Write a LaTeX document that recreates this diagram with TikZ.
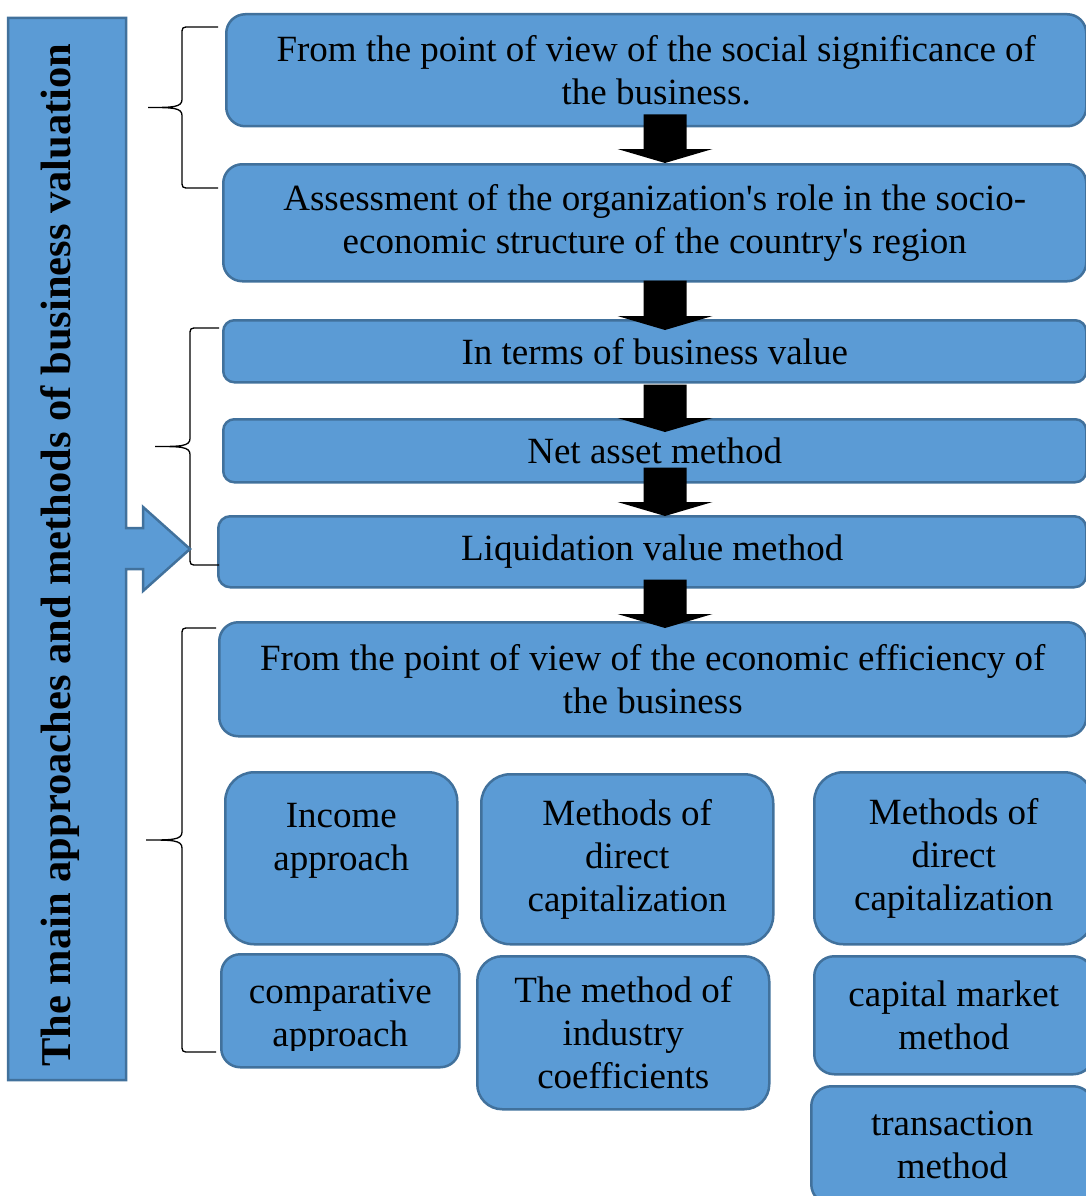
\documentclass[tikz,border=0pt]{standalone}
\usepackage{fontspec}
\setmainfont{Liberation Serif}
\usetikzlibrary{calc}
\definecolor{boxfill}{HTML}{5B9BD5}
\definecolor{boxline}{HTML}{41719C}

% left curly brace: ends x, spine x, tip x, top y, bottom y
\newcommand\curlyb[5]{%
  \draw[curly] (#1,#4) -- (#2+8,#4) .. controls (#2,#4) .. (#2,#4+8)
    -- (#2,{(#4+#5)/2-8}) .. controls (#2,{(#4+#5)/2}) and (#2-10,{(#4+#5)/2}) .. (#3,{(#4+#5)/2})
    .. controls (#2-10,{(#4+#5)/2}) and (#2,{(#4+#5)/2}) .. (#2,{(#4+#5)/2+8})
    -- (#2,#5-8) .. controls (#2,#5) .. (#2+8,#5) -- (#1,#5);}

\begin{document}
\begin{tikzpicture}[x=1pt,y=-1pt,
    box/.style={draw=boxline,fill=boxfill,line width=2.5pt,rounded corners=#1,
      anchor=north west,align=center,inner sep=0pt,font=\fontsize{37}{43}\selectfont},
    box/.default=18pt,
    txt/.style={align=center,inner sep=0pt,font=\fontsize{37}{43}\selectfont},
    blockarr/.style={fill=black,to path={let \p1=(\tikztostart),\p2=(\tikztotarget) in
      (\x1-21.5pt,\y1) -- (\x1+21.5pt,\y1) -- (\x1+21.5pt,\y2+14pt) -- (\x1+47.5pt,\y2+14pt)
      -- (\x1,\y2) -- (\x1-47.5pt,\y2+14pt) -- (\x1-21.5pt,\y2+14pt) -- cycle}},
    curly/.style={line width=1.3pt}]
  \clip (0,0) rectangle (1086,1196);

  % chain of boxes
  \node[box=19pt,minimum width=860pt,minimum height=112pt] (b1) at (225,13)
    {From the point of view of the social significance of\\the business.};
  \node[box=19pt,minimum width=863pt,minimum height=117pt] (b2) at (222,163)
    {Assessment of the organization\textquotesingle s role in the socio-\\economic structure of the country\textquotesingle s region};
  \node[box=11pt,minimum width=863pt,minimum height=62pt] (b3) at (222,319) {In terms of business value};
  \node[box=11pt,minimum width=863pt,minimum height=63pt] (b4) at (222,418) {Net asset method};
  \node[box=12pt,minimum width=868pt,minimum height=71pt] (b5) at (217,515) {Liquidation value method};
  \node[box=19pt,minimum width=867pt,minimum height=114pt] (b6) at (218,621)
    {From the point of view of the economic efficiency of\\the business};

  % methods
  \node[box=29pt,minimum width=232pt,minimum height=172pt] (b7) at (224,771) {Income\\approach\\\mbox{}};
  \node[box=29pt,minimum width=292pt,minimum height=170pt] (b8) at (480,773) {Methods of\\direct\\capitalization};
  \node[box=29pt,minimum width=279pt,minimum height=172pt] (b9) at (813,771) {Methods of\\direct\\capitalization};
  \node[box=19pt,minimum width=238pt,minimum height=113pt] (b10) at (220,953) {};
  \begin{scope}
    \clip (b10.north west) rectangle (458,1050);
    \node[txt] (t10) at ($(b10.center)+(0,6)$) {comparative\\approach};
  \end{scope}
  \node[box=25pt,minimum width=292pt,minimum height=153pt] (b11) at (476,955) {The method of\\industry\\coefficients};
  \node[box=20pt,minimum width=279pt,minimum height=118pt] (b12) at (813,955) {capital market\\method};
  \node[box=20pt,minimum width=282pt,minimum height=118pt] (b13) at (810,1085) {transaction\\method};

  % black arrows
  \coordinate (ax) at (665,0);
  \path[blockarr] ($(ax |- b1.south)+(0,-13)$) to ($(ax |- b2.north)+(0,0)$);
  \path[blockarr] ($(ax |- b2.south)+(0,-2)$) to ($(ax |- b3.north)+(0,11)$);
  \path[blockarr] ($(ax |- b3.south)+(0,1)$) to ($(ax |- b4.north)+(0,14)$);
  \path[blockarr] ($(ax |- b4.south)+(0,-16)$) to ($(ax |- b5.north)+(0,1)$);
  \path[blockarr] ($(ax |- b5.south)+(0,-9)$) to ($(ax |- b6.north)+(0,7)$);

  % braces
  \curlyb{218}{182}{148}{27}{188}
  \curlyb{219}{190}{155}{328}{565}
  \curlyb{216}{182}{146}{628}{1052}

  % left bar with its arrow
  \draw[draw=boxline,fill=boxfill,line width=2.5pt]
    (8,18) -- (126,18) -- (126,528) -- (143,528) -- (143,507) -- (190,549)
    -- (143,591) -- (143,569) -- (126,569) -- (126,1080) -- (8,1080) -- cycle;
  \node[rotate=90,anchor=base,inner sep=0pt,font=\fontsize{42.5}{50}\selectfont\bfseries] (title) at (70,555)
    {The main approaches and methods of business valuation};
\end{tikzpicture}
\end{document}
